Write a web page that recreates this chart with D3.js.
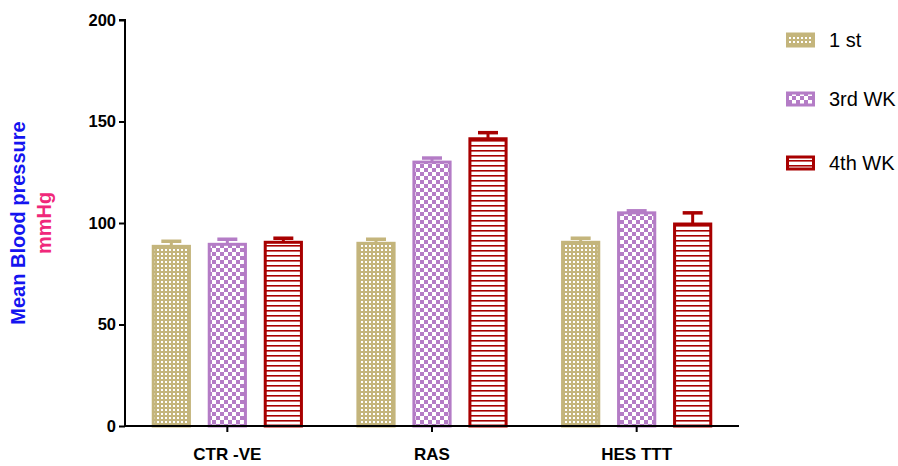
<!DOCTYPE html>
<html><head><meta charset="utf-8">
<script src="https://cdn.jsdelivr.net/npm/d3@7/dist/d3.min.js"></script>
<style>body{margin:0;background:#fff;} svg{display:block;font-family:"Liberation Sans",Arial,sans-serif;}</style>
</head><body>
<svg id="c" width="898" height="466"></svg>
<script>
const categories = ["CTR -VE", "RAS", "HES TTT"];
const seriesNames = ["1 st", "3rd WK", "4th WK"];
const series1st = [88.5, 90.0, 90.5];
const series1stErr = [2.5, 2.0, 2.0];
const series3rd = [89.5, 130.0, 105.0];
const series3rdErr = [2.5, 2.0, 1.0];
const series4th = [90.5, 141.5, 99.5];
const series4thErr = [2.0, 3.0, 5.5];
const yTicks = [0, 50, 100, 150, 200];
const colors = ["#C4B57C", "#B47CC6", "#A80000"];

const values = [series1st, series3rd, series4th];
const errs = [series1stErr, series3rdErr, series4thErr];

const svg = d3.select("#c");
const x0 = d3.scaleBand().domain(categories).range([125, 739]).padding(0);
const x1 = d3.scaleBand().domain(seriesNames).range([-84, 84]).paddingInner(0.3).paddingOuter(0.15);
const y = d3.scaleLinear().domain([0, 200]).range([426, 20]);

// patterns
const defs = svg.append("defs");
const p0 = defs.append("pattern").attr("id","pat0").attr("patternUnits","userSpaceOnUse").attr("width",4).attr("height",4);
p0.append("rect").attr("width",4).attr("height",4).attr("fill",colors[0]);
p0.append("rect").attr("x",1).attr("y",1).attr("width",2).attr("height",2).attr("fill","#fff");
const p1 = defs.append("pattern").attr("id","pat1").attr("patternUnits","userSpaceOnUse").attr("width",8).attr("height",8);
p1.append("rect").attr("width",8).attr("height",8).attr("fill","#fff");
p1.append("rect").attr("width",4).attr("height",4).attr("fill",colors[1]);
p1.append("rect").attr("x",4).attr("y",4).attr("width",4).attr("height",4).attr("fill",colors[1]);
const p2 = defs.append("pattern").attr("id","pat2").attr("patternUnits","userSpaceOnUse").attr("width",5).attr("height",5);
p2.append("rect").attr("width",5).attr("height",5).attr("fill","#fff");
p2.append("rect").attr("y",0).attr("width",5).attr("height",1.6).attr("fill",colors[2]);

// bars
seriesNames.forEach((s, si) => {
  const g = svg.append("g");
  categories.forEach((c, ci) => {
    const cx = x0(c) + x0.bandwidth()/2;
    const bx = cx + x1(s);
    const bw = x1.bandwidth();
    const v = values[si][ci], e = errs[si][ci];
    g.append("line").attr("x1", bx + bw/2).attr("x2", bx + bw/2)
      .attr("y1", y(v)).attr("y2", y(v + e)).attr("stroke", colors[si]).attr("stroke-width", 3);
    g.append("line").attr("x1", bx + bw/2 - 10).attr("x2", bx + bw/2 + 10)
      .attr("y1", y(v + e)).attr("y2", y(v + e)).attr("stroke", colors[si]).attr("stroke-width", 3.5);
    g.append("rect").attr("x", bx + 1.5).attr("y", y(v)).attr("width", bw - 3).attr("height", y(0) - y(v))
      .attr("fill", `url(#pat${si})`).attr("stroke", colors[si]).attr("stroke-width", 3);
  });
});

// axes
const yAxis = svg.append("g").attr("transform", "translate(125,0)")
  .call(d3.axisLeft(y).tickValues(yTicks).tickSize(6).tickPadding(3));
yAxis.select(".domain").attr("stroke", "#000").attr("stroke-width", 2).attr("d", `M-6,${y(200)}H0V${y(0)}`);
yAxis.selectAll(".tick line").attr("stroke", "#000").attr("stroke-width", 2);
yAxis.selectAll(".tick text").attr("font-size", 16.5).attr("font-weight", "bold").attr("fill", "#000")
  .attr("font-family", '"Liberation Sans",Arial,sans-serif');

const xAxis = svg.append("g").attr("transform", `translate(0,${y(0)})`)
  .call(d3.axisBottom(x0).tickSize(6).tickPadding(16));
xAxis.select(".domain").attr("stroke", "#000").attr("stroke-width", 2).attr("d", `M125,0H739`);
xAxis.selectAll(".tick line").attr("stroke", "#000").attr("stroke-width", 2);
xAxis.selectAll(".tick text").attr("font-size", 17).attr("font-weight", "bold").attr("fill", "#000")
  .attr("font-family", '"Liberation Sans",Arial,sans-serif');

// y title
svg.append("text").attr("transform", "translate(25,223) rotate(-90)").attr("text-anchor", "middle")
  .attr("font-size", 20).attr("font-weight", "bold").attr("fill", "#1414F0").text("Mean Blood pressure");
svg.append("text").attr("transform", "translate(51,223) rotate(-90)").attr("text-anchor", "middle")
  .attr("font-size", 20).attr("font-weight", "bold").attr("fill", "#F0287A").text("mmHg");

// legend
const legY = [40, 99, 163];
seriesNames.forEach((s, si) => {
  svg.append("rect").attr("x", 787.5).attr("y", legY[si] - 6).attr("width", 26).attr("height", 12)
    .attr("fill", `url(#pat${si})`).attr("stroke", colors[si]).attr("stroke-width", 3);
  svg.append("text").attr("x", 829).attr("y", legY[si] + 7).attr("font-size", 20).attr("fill", "#000").text(s);
});
</script>
</body></html>
